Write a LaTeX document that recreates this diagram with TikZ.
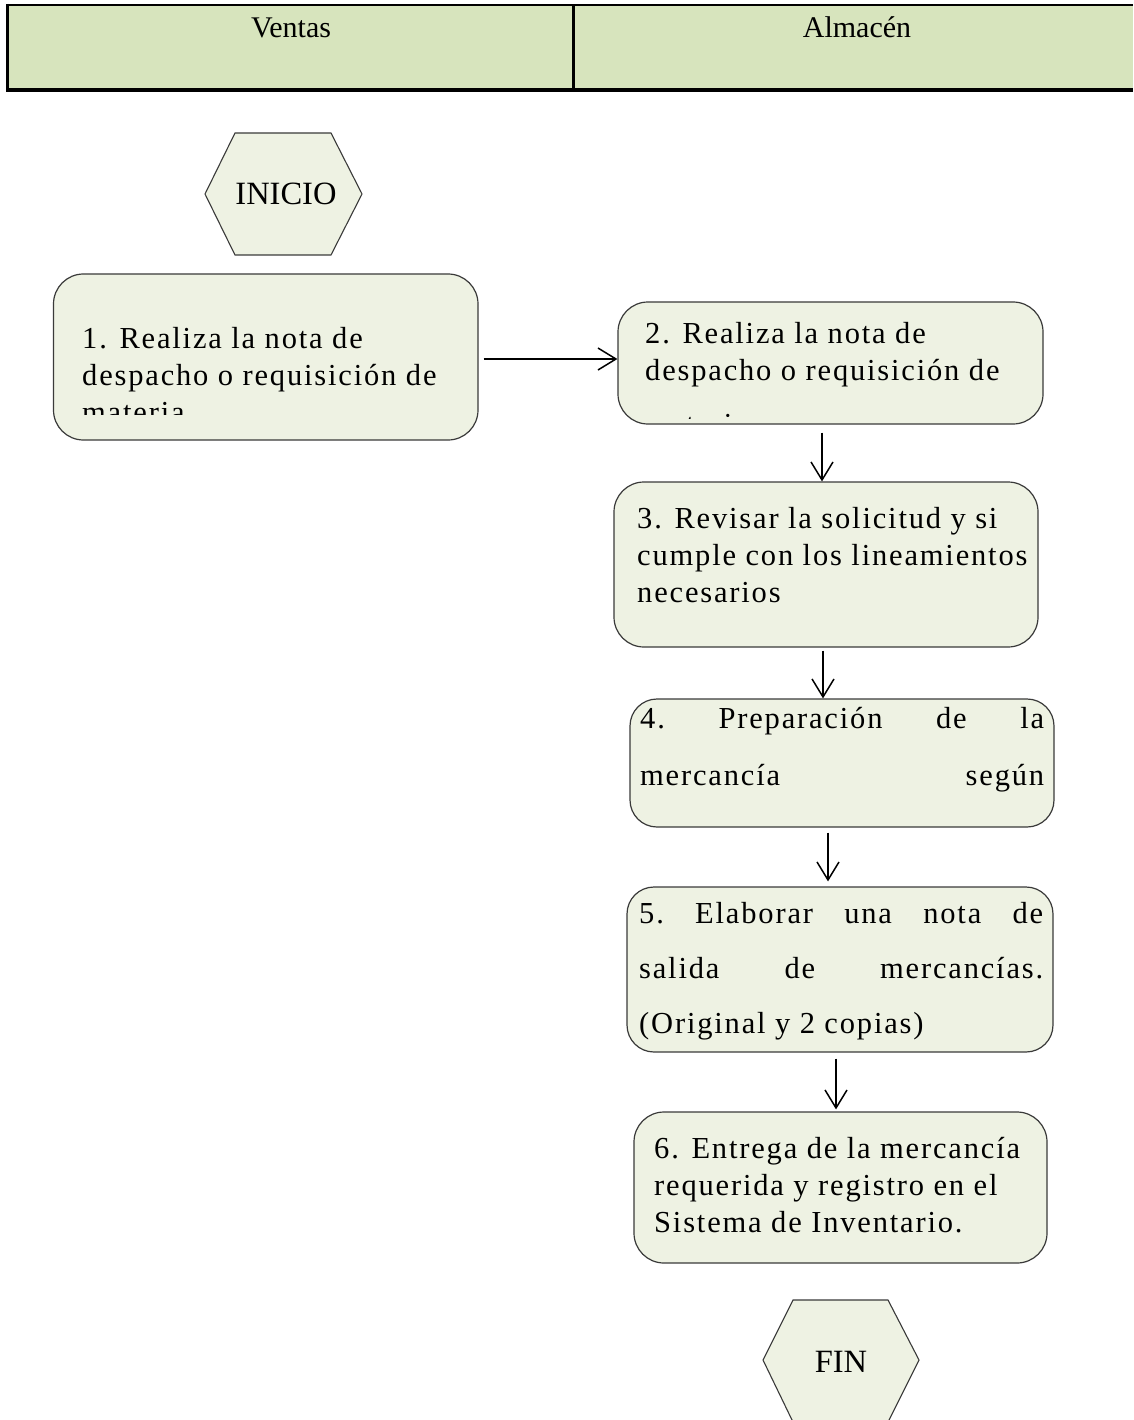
\documentclass[tikz,border=0pt]{standalone}
\usepackage{fontspec}
\setmainfont{Liberation Serif}
\newfontfamily\boxfont[LetterSpace=6]{Liberation Serif}
\usetikzlibrary{arrows.meta,calc}
\definecolor{hdrfill}{HTML}{D7E4BD}
\definecolor{boxfill}{HTML}{EEF2E3}
\definecolor{boxline}{HTML}{3A3A3A}
\begin{document}
\begin{tikzpicture}[x=1pt,y=-1pt,
  procbox/.style={draw=boxline, fill=boxfill, line width=1.2pt, rounded corners=30pt, inner sep=0pt},
  hexbox/.style={draw=boxline, fill=boxfill, line width=1.1pt},
  boxtext/.style={anchor=base west, inner sep=0pt, align=left, font=\boxfont\fontsize{30.5}{37}\selectfont},
  hdrtext/.style={anchor=base, inner sep=0pt, font=\fontsize{30}{36}\selectfont},
  hextext/.style={inner sep=0pt, font=\fontsize{32.5}{36}\selectfont},
  flowarrow/.style={line width=1.5pt, -{Straight Barb[length=18pt,width=22pt,line width=1.5pt]}},
]
\useasboundingbox (0,0) rectangle (1133,1420);

% header
\fill[hdrfill] (7.5,5) rectangle (1133,90);
\draw[line width=2pt] (6,5) -- (1133,5);
\draw[line width=3.3pt] (6,90) -- (1133,90);
\draw[line width=3pt] (7.5,4) -- (7.5,91.6);
\draw[line width=3pt] (573.3,5) -- (573.3,90);
\node[hdrtext] (ventas) at (291,38) {Ventas};
\node[hdrtext] (almacen) at (857,38) {Almacén};

% INICIO
\draw[hexbox] (205,194) -- (235,133) -- (331,133) -- (362,194) -- (331,255) -- (235,255) -- cycle;
\node[hextext] (inicio) at (286,194) {INICIO};

% boxes
\node[procbox, minimum width=424.5pt, minimum height=166pt] (b1) at (265.75,357) {};
\node[procbox, minimum width=425pt, minimum height=122pt] (b2) at (830.5,363) {};
\node[procbox, minimum width=424pt, minimum height=165pt] (b3) at (826,564.5) {};
\node[procbox, minimum width=424pt, minimum height=128pt, rounded corners=27pt] (b4) at (842,763) {};
\node[procbox, minimum width=426pt, minimum height=165pt, rounded corners=27pt] (b5) at (840,969.5) {};
\node[procbox, minimum width=413pt, minimum height=151pt] (b6) at (840.5,1187.5) {};

% texts (anchored at the baseline of their last line)
\begin{scope}
\clip (54,274) rectangle (478,414);
\node[boxtext] (t1) at (82,422) {1. Realiza la nota de\\despacho o requisición de\\materia};
\end{scope}
\begin{scope}
\clip (618,302) rectangle (1043,418);
\node[boxtext] (t2) at (645,434) {2. Realiza la nota de\\despacho o requisición de\\[17pt]materia};
\end{scope}
\node[boxtext] (t3) at (637,602) {3. Revisar la solicitud y si\\cumple con los lineamientos\\necesarios};
\node[boxtext, font=\boxfont\fontsize{30.5}{57}\selectfont] (t4) at (640,785)
  {\hbox to 404pt{4.\hfill Preparación\hfill de\hfill la}\\\hbox to 404pt{mercancía\hfill según}};
\node[boxtext, font=\boxfont\fontsize{30.5}{55}\selectfont] (t5) at (639,1033)
  {\hbox to 404pt{5.\hfill Elaborar\hfill una\hfill nota\hfill de}\\\hbox to 404pt{salida\hfill de\hfill mercancías.}\\(Original y 2 copias)};
\node[boxtext] (t6) at (654,1232) {6. Entrega de la mercancía\\requerida y registro en el\\Sistema de Inventario.};

% FIN
\draw[hexbox] (763,1360) -- (793,1300) -- (888,1300) -- (919,1360) -- (888.5,1421) -- (792.5,1421) -- cycle;
\node[hextext] (fin) at (841,1362) {FIN};

% arrows
\coordinate (a12s) at ([xshift=5pt,yshift=-2pt]b1.east);
\draw[flowarrow] (a12s) -- (a12s -| b2.west);
\coordinate (a23s) at ([xshift=-8.5pt,yshift=-8pt]b2.south);
\draw[flowarrow] (a23s) -- (a23s |- b3.north);
\coordinate (a34s) at ([xshift=-3pt,yshift=-3pt]b3.south);
\draw[flowarrow] (a34s) -- (a34s |- b4.north);
\coordinate (a45s) at ([xshift=-14pt,yshift=-5pt]b4.south);
\draw[flowarrow] (a45s) -- ([yshift=5pt]a45s |- b5.north);
\coordinate (a56s) at ([xshift=-4pt,yshift=-6pt]b5.south);
\draw[flowarrow] (a56s) -- ([yshift=2pt]a56s |- b6.north);
\end{tikzpicture}
\end{document}
